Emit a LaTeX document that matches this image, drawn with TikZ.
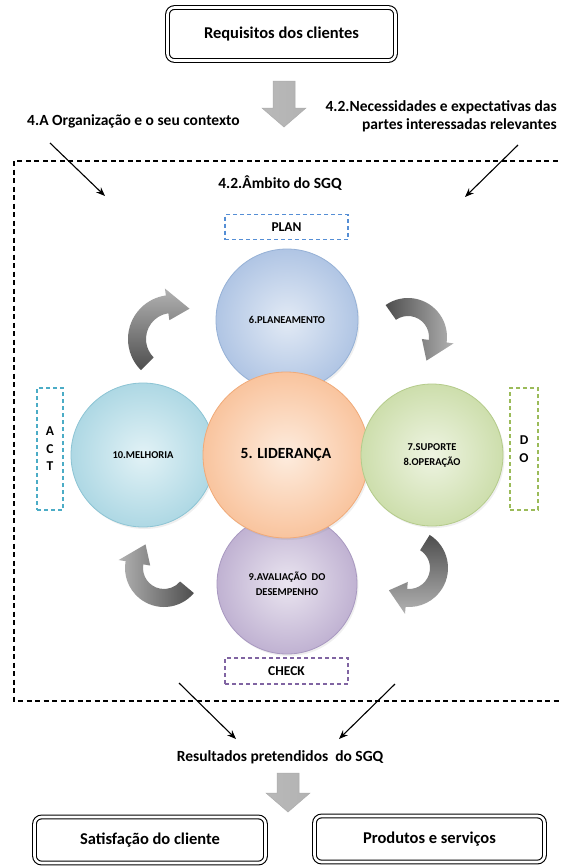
\documentclass[tikz,border=0pt]{standalone}
\usepackage{fontspec}
\setmainfont{Carlito}
\usetikzlibrary{calc,arrows.meta,shadows}

\definecolor{planfill}{RGB}{226,234,245}
\definecolor{planedge}{RGB}{176,197,228}
\definecolor{planline}{RGB}{150,177,214}
\definecolor{leadfill}{RGB}{253,236,222}
\definecolor{leadedge}{RGB}{249,196,158}
\definecolor{leadline}{RGB}{240,170,120}
\definecolor{actfill}{RGB}{226,242,246}
\definecolor{actedge}{RGB}{174,216,228}
\definecolor{actline}{RGB}{140,196,212}
\definecolor{dofill}{RGB}{238,244,226}
\definecolor{doedge}{RGB}{205,222,172}
\definecolor{doline}{RGB}{180,203,138}
\definecolor{chkfill}{RGB}{234,229,240}
\definecolor{chkedge}{RGB}{192,178,210}
\definecolor{chkline}{RGB}{168,152,192}
\definecolor{plandash}{RGB}{85,142,213}
\definecolor{actdash}{RGB}{75,172,198}
\definecolor{dodash}{RGB}{155,187,89}
\definecolor{chkdash}{RGB}{128,100,162}
\definecolor{arrdark}{RGB}{78,78,78}
\definecolor{arrlight}{RGB}{178,178,178}

% curved block arrow: centre x, centre y, mid radius, tail angle, head base angle, tip angle, shading
\newcommand\cyclearrow[7]{%
  \begin{scope}[shift={(#1,#2)}]
    \pgfmathsetmacro\ro{#3+9}\pgfmathsetmacro\ri{#3-9}%
    \pgfmathsetmacro\hro{#3+16}\pgfmathsetmacro\hri{#3-16}%
    \shade[#7] (#4:\ro) arc[start angle=#4, end angle=#5, radius=\ro]
      -- (#5:\hro) -- (#6:#3) -- (#5:\hri) -- (#5:\ri)
      arc[start angle=#5, end angle=#4, radius=\ri] -- cycle;
  \end{scope}}

% straight grey block arrow pointing down: x, top, head base, tip
\newcommand\blockdown[4]{%
  \shadedraw[draw=gray!65, line width=0.5pt, left color=gray!55, middle color=gray!12, right color=gray!60]
    (#1-11,#2) -- (#1+11,#2) -- (#1+11,#3) -- (#1+22,#3) -- (#1,#4)
    -- (#1-22,#3) -- (#1-11,#3) -- cycle;}

\tikzset{
  lbl/.style={font=\bfseries\fontsize{15.5}{18}\selectfont, inner sep=0pt},
  titlebox/.style={draw=black, line width=1.1pt, double=white, double distance=2.6pt,
    rounded corners=7pt, font=\bfseries\fontsize{16.5}{19}\selectfont},
  pointer/.style={draw=black, line width=1.1pt, -{Stealth[length=9pt,width=7pt]}},
  frame/.style={draw=black, line width=1.2pt, dash pattern=on 5pt off 3.5pt},
  phasebox/.style={line width=1.1pt, dash pattern=on 4pt off 3pt, inner sep=0pt,
    font=\bfseries\fontsize{13.5}{17.5}\selectfont, align=center},
  disc/.style={circle, minimum size=#1, inner sep=0pt, line width=0.8pt, align=center,
    font=\bfseries\fontsize{10.5}{15}\selectfont,
    drop shadow={opacity=0.12, shadow xshift=1.5pt, shadow yshift=-2pt}},
}

\begin{document}
\begin{tikzpicture}[x=1pt,y=-1pt]
\clip (0,0) rectangle (560,868);
\fill[white] (0,0) rectangle (560,868);

% inputs
\node[titlebox, minimum width=228pt, minimum height=53pt] (req) at (281.5,34) {Requisitos dos clientes};
\blockdown{284}{81}{108}{127}

\node[lbl, anchor=west] (org) at (27,121) {4.A Organização e o seu contexto};
\node[lbl, anchor=east, align=right] (needs) at (557,116) {4.2.Necessidades e expectativas das\\partes interessadas relevantes};

% scope of the QMS
\draw[frame] (14,161) rectangle (566,701);
\node[lbl] (scope) at (280,183) {4.2.Âmbito do SGQ};

\coordinate (orgtail) at (50,143);
\coordinate (orghead) at (105,196);
\coordinate (needtail) at (518,145);
\coordinate (needhead) at (465,197);
\draw[pointer] (orgtail) -- (orghead);
\draw[pointer] (needtail) -- (needhead);

% PDCA phase labels
\node[phasebox, draw=plandash, minimum width=123pt, minimum height=25pt] (planbox) at (286.5,227) {PLAN};
\node[phasebox, draw=actdash, minimum width=26pt, minimum height=122pt] (actbox) at (50,449) {A\\C\\T};
\node[phasebox, draw=dodash, minimum width=28pt, minimum height=122pt] (dobox) at (524,449) {D\\O};
\node[phasebox, draw=chkdash, minimum width=123pt, minimum height=26pt] (chkbox) at (286.5,671) {CHECK};

% clauses
\node[disc=142pt, shade, inner color=planfill, outer color=planedge, draw=planline] (plan) at (287,320) {6.PLANEAMENTO};
\node[disc=140pt, shade, inner color=chkfill, outer color=chkedge, draw=chkline] (check) at (287,584) {9.AVALIAÇÃO\ \ DO\\DESEMPENHO};
\node[disc=144pt, shade, inner color=actfill, outer color=actedge, draw=actline] (act) at (143,455) {10.MELHORIA};
\node[disc=166pt, shade, inner color=leadfill, outer color=leadedge, draw=leadline,
  font=\bfseries\fontsize{15.5}{18}\selectfont] (lead) at (286,455) {5. LIDERANÇA};
\node[disc=142pt, shade, inner color=dofill, outer color=doedge, draw=doline] (do) at (432,455) {7.SUPORTE\\8.OPERAÇÃO};

% improvement cycle
\cyclearrow{172}{339}{35}{135}{262}{300}{bottom color=arrdark, top color=arrlight}
\cyclearrow{408}{337}{30}{235}{368}{412}{left color=arrdark, right color=arrlight}
\cyclearrow{409}{568}{30}{-58}{95}{132}{top color=arrdark, bottom color=arrlight}
\cyclearrow{164}{568}{30}{40}{190}{232}{right color=arrdark, left color=arrlight}

% outputs
\coordinate (chktail) at (179,683);
\coordinate (chkhead) at (236,739);
\coordinate (dotail) at (395,684);
\coordinate (dohead) at (339,739);
\draw[pointer] (chktail) -- (chkhead);
\draw[pointer] (dotail) -- (dohead);

\node[lbl] (results) at (280,757) {Resultados pretendidos\ \ do SGQ};
\blockdown{288}{773}{793}{812}

\node[titlebox, minimum width=231pt, minimum height=46pt] (satisf) at (150,840) {Satisfação do cliente};
\node[titlebox, minimum width=230pt, minimum height=46pt] (prod) at (429.5,839) {Produtos e serviços};
\end{tikzpicture}
\end{document}
